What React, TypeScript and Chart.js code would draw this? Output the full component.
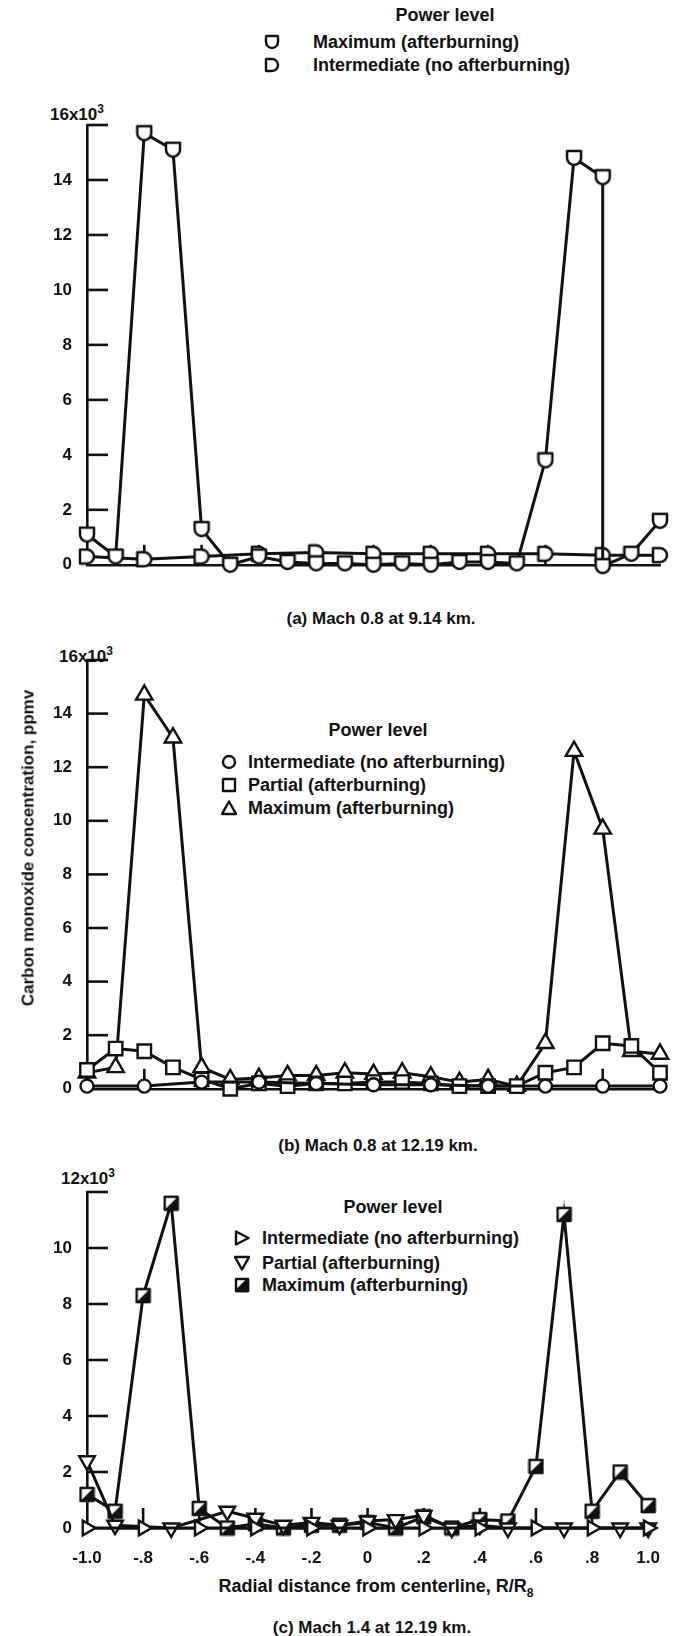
import React, { useEffect, useRef } from 'react';
import { Chart, registerables } from 'chart.js';

Chart.register(...registerables);

// ---------------- data (CO concentration, thousands of ppmv) ----------------
const radialPositions = [-1.0, -0.9, -0.8, -0.7, -0.6, -0.5, -0.4, -0.3, -0.2, -0.1, 0, 0.1, 0.2, 0.3, 0.4, 0.5, 0.6, 0.7, 0.8, 0.9, 1.0];
const evenPositions = [-1.0, -0.8, -0.6, -0.4, -0.2, 0, 0.2, 0.4, 0.6, 0.8, 1.0];

const xTickLabels = ['-1.0', '-.8', '-.6', '-.4', '-.2', '0', '.2', '.4', '.6', '.8', '1.0'];
const yTickLabels16 = ['0', '2', '4', '6', '8', '10', '12', '14', ''];
const yTickLabels12 = ['0', '2', '4', '6', '8', '10', ''];

// (a) Mach 0.8 at 9.14 km
const aMaxPositions = [-1.0, -0.9, -0.8, -0.7, -0.6, -0.5, -0.4, -0.3, -0.2, -0.1, 0, 0.1, 0.2, 0.3, 0.4, 0.5, 0.6, 0.7, 0.8, 0.8, 0.9, 1.0];
const aMaxValues = [1.1, 0.3, 15.7, 15.1, 1.3, 0, 0.3, 0.1, 0.05, 0.05, 0, 0.05, 0, 0.1, 0.1, 0.05, 3.8, 14.8, 14.1, -0.05, 0.4, 1.6];
const aIntValues = [0.3, 0.2, 0.3, 0.4, 0.45, 0.4, 0.4, 0.4, 0.4, 0.35, 0.35];

// (b) Mach 0.8 at 12.19 km
const bIntValues = [0.1, 0.1, 0.25, 0.25, 0.2, 0.15, 0.15, 0.1, 0.1, 0.1, 0.1];
const bPartValues = [0.7, 1.5, 1.4, 0.8, 0.35, 0, 0.2, 0.1, 0.2, 0.2, 0.25, 0.25, 0.2, 0.1, 0.1, 0.1, 0.6, 0.8, 1.7, 1.6, 0.6];
const bMaxValues = [0.6, 0.8, 14.7, 13.1, 0.8, 0.35, 0.4, 0.5, 0.5, 0.6, 0.55, 0.6, 0.45, 0.25, 0.35, 0.1, 1.7, 12.6, 9.7, 1.4, 1.3];

// (c) Mach 1.4 at 12.19 km
const cIntValues = [0, 0, 0, 0, 0, 0, 0, 0, 0, 0, 0];
const cPartPositions = [-1.0, -0.9, -0.7, -0.5, -0.4, -0.3, -0.2, -0.1, 0, 0.1, 0.2, 0.3, 0.4, 0.5, 0.7, 0.9, 1.0];
const cPartValues = [2.4, 0.1, 0, 0.6, 0.35, 0.1, 0.2, 0.1, 0.25, 0.3, 0.45, 0, 0.1, 0, 0, 0, 0];
const cMaxValues = [1.2, 0.6, 8.3, 11.6, 0.7, 0, 0.15, 0, 0.1, 0.1, 0.2, 0, 0.4, 0, 0.3, 0.25, 2.2, 11.2, 0.6, 2.0, 0.8];

// ---------------- styling ----------------
const FONT = "'Liberation Sans', Arial, sans-serif";
const INK = '#111';
const W = 680;
const AXIS_X = 87;
const RIGHT_X = 660;
const Y_AXIS_W = 80;

function makeMarker(kind: 'cup' | 'dee' | 'half', size: number): HTMLCanvasElement {
  const pad = 2;
  const s = size + pad * 2;
  const c = document.createElement('canvas');
  c.width = s;
  c.height = s;
  const ctx = c.getContext('2d')!;
  ctx.lineWidth = 2.5;
  ctx.strokeStyle = INK;
  ctx.fillStyle = '#fff';
  ctx.lineJoin = 'round';
  const l = pad, t = pad, r = pad + size, b = pad + size, m = s / 2, rad = size / 2;
  ctx.beginPath();
  if (kind === 'cup') {
    ctx.moveTo(l, t); ctx.lineTo(r, t); ctx.lineTo(r, m); ctx.arc(m, m, rad, 0, Math.PI); ctx.closePath();
    ctx.fill(); ctx.stroke();
  } else if (kind === 'dee') {
    ctx.moveTo(l, t); ctx.lineTo(m, t); ctx.arc(m, m, rad, -Math.PI / 2, Math.PI / 2); ctx.lineTo(l, b); ctx.closePath();
    ctx.fill(); ctx.stroke();
  } else {
    ctx.rect(l, t, size, size); ctx.fill();
    ctx.beginPath(); ctx.moveTo(r, t); ctx.lineTo(r, b); ctx.lineTo(l, b); ctx.closePath();
    ctx.fillStyle = INK; ctx.fill();
    ctx.beginPath(); ctx.rect(l, t, size, size); ctx.stroke();
  }
  return c;
}

const innerTicks = {
  id: 'innerTicks',
  beforeDatasetsDraw(chart: any) {
    const { ctx, chartArea, scales } = chart;
    ctx.save();
    ctx.strokeStyle = INK;
    ctx.lineWidth = 2.6;
    scales.y.ticks.forEach((t: any) => {
      if (t.value === 0) return;
      const y = scales.y.getPixelForValue(t.value);
      ctx.beginPath(); ctx.moveTo(chartArea.left, y); ctx.lineTo(chartArea.left + 21, y); ctx.stroke();
    });
    scales.x.ticks.forEach((t: any) => {
      if (Math.abs(t.value) > 0.99) return;
      const x = scales.x.getPixelForValue(t.value);
      ctx.beginPath(); ctx.moveTo(x, chartArea.bottom); ctx.lineTo(x, chartArea.bottom - 20); ctx.stroke();
    });
    ctx.restore();
  },
};

function series(xs: number[], ys: number[], extra: any) {
  return {
    data: xs.map((x, i) => ({ x, y: ys[i] })),
    borderColor: INK,
    borderWidth: 3,
    pointBackgroundColor: '#fff',
    pointBorderColor: INK,
    pointBorderWidth: 2.4,
    tension: 0,
    clip: false,
    spanGaps: true,
    ...extra,
  };
}

type PanelProps = {
  canvasTop: number;
  canvasHeight: number;
  chartTop: number;
  chartBottom: number;
  yMax: number;
  yLabels: string[];
  showX: boolean;
  xAxisHeight: number;
  makeSeries: () => any[];
};

function Panel(p: PanelProps) {
  const ref = useRef<HTMLCanvasElement>(null);
  useEffect(() => {
    const canvas = ref.current!;
    const tickFont = { family: FONT, size: 17, weight: 'bold' as const };
    const chart = new Chart(canvas, {
      type: 'line',
      data: { datasets: p.makeSeries() },
      options: {
        animation: false,
        responsive: false,
        maintainAspectRatio: false,
        devicePixelRatio: 1,
        events: [],
        layout: {
          padding: {
            top: p.chartTop - p.canvasTop,
            bottom: p.canvasTop + p.canvasHeight - p.chartBottom - p.xAxisHeight,
            left: AXIS_X - Y_AXIS_W,
            right: W - RIGHT_X,
          },
        },
        plugins: { legend: { display: false }, tooltip: { enabled: false }, title: { display: false } },
        scales: {
          x: {
            type: 'linear',
            min: -1,
            max: 1,
            grid: { display: false, drawTicks: false },
            border: { display: true, color: INK, width: 2.6 },
            ticks: {
              display: p.showX,
              stepSize: 0.2,
              padding: 20,
              color: INK,
              font: tickFont,
              maxRotation: 0,
              autoSkip: false,
              callback: (_v: any, i: number) => xTickLabels[i] ?? '',
            },
            afterFit: (s: any) => { s.height = p.xAxisHeight; },
          },
          y: {
            type: 'linear',
            min: 0,
            max: p.yMax,
            grid: { display: false, drawTicks: false },
            border: { display: true, color: INK, width: 2.6 },
            ticks: {
              stepSize: 2,
              padding: 15,
              color: INK,
              font: tickFont,
              callback: (_v: any, i: number) => p.yLabels[i] ?? '',
            },
            afterFit: (s: any) => { s.width = Y_AXIS_W; },
          },
        },
      } as any,
      plugins: [innerTicks],
    });
    return () => chart.destroy();
  }, []);
  return (
    <canvas
      ref={ref}
      width={W}
      height={p.canvasHeight}
      style={{ position: 'absolute', left: 0, top: p.canvasTop, width: W, height: p.canvasHeight }}
    />
  );
}

function Marker({ kind, x, y }: { kind: string; x: number; y: number }) {
  let shape: any = null;
  switch (kind) {
    case 'cup': shape = <path d="M2 2 H14 V8 A6 6 0 0 1 2 8 Z" />; break;
    case 'dee': shape = <path d="M2 2 H8 A6 6 0 0 1 8 14 H2 Z" />; break;
    case 'circle': shape = <circle cx={8} cy={8} r={6} />; break;
    case 'square': shape = <rect x={2} y={2} width={12} height={12} />; break;
    case 'triangle': shape = <path d="M8 1.5 L15 14 H1 Z" />; break;
    case 'right': shape = <path d="M2 1.5 L14.5 8 L2 14.5 Z" />; break;
    case 'down': shape = <path d="M1 2 H15 L8 14.5 Z" />; break;
    case 'half':
      shape = (
        <g>
          <rect x={2} y={2} width={12} height={12} />
          <path d="M14 2 V14 H2 Z" fill={INK} />
        </g>
      );
      break;
  }
  return (
    <svg width={16} height={16} style={{ position: 'absolute', left: x - 8, top: y - 8 }}>
      <g fill="#fff" stroke={INK} strokeWidth={2.4} strokeLinejoin="round">{shape}</g>
    </svg>
  );
}

const base: React.CSSProperties = {
  position: 'absolute',
  fontFamily: FONT,
  fontWeight: 'bold',
  color: INK,
  whiteSpace: 'nowrap',
  lineHeight: 1,
};

function Text({ x, y, size = 18, center = false, children }: any) {
  return (
    <div style={{ ...base, left: x, top: y, fontSize: size, transform: center ? 'translate(-50%, -50%)' : 'translateY(-50%)' }}>
      {children}
    </div>
  );
}

function Legend({ headX, headY, markX, textX, rows }: any) {
  return (
    <>
      <Text x={headX} y={headY} center>Power level</Text>
      {rows.map((r: any, i: number) => (
        <React.Fragment key={i}>
          <Marker kind={r.kind} x={markX} y={r.y} />
          <Text x={textX} y={r.y}>{r.label}</Text>
        </React.Fragment>
      ))}
    </>
  );
}

const sup = { fontSize: 12 };

export default function App() {
  return (
    <div style={{ position: 'absolute', left: 0, top: 0, width: W, height: 1636, background: '#fff', overflow: 'hidden' }}>
      {/* Panel (a) */}
      <Legend
        headX={445} headY={15} markX={272} textX={313}
        rows={[
          { kind: 'cup', y: 42, label: 'Maximum (afterburning)' },
          { kind: 'dee', y: 65, label: 'Intermediate (no afterburning)' },
        ]}
      />
      <Text x={50} y={113} size={17}>16x10<sup style={sup}>3</sup></Text>
      <Panel
        canvasTop={95} canvasHeight={495} chartTop={125} chartBottom={578}
        yMax={16} yLabels={yTickLabels16} showX={false} xAxisHeight={10}
        makeSeries={() => [
          series(aMaxPositions, aMaxValues, { pointStyle: makeMarker('cup', 14), pointRadius: 8 }),
          series(evenPositions, aIntValues, { pointStyle: makeMarker('dee', 14), pointRadius: 8 }),
        ]}
      />
      <Text x={381} y={618} size={17} center>(a) Mach 0.8 at 9.14 km.</Text>

      {/* Panel (b) */}
      <Text x={59} y={655} size={17}>16x10<sup style={sup}>3</sup></Text>
      <Legend
        headX={378} headY={730} markX={229} textX={248}
        rows={[
          { kind: 'circle', y: 762, label: 'Intermediate (no afterburning)' },
          { kind: 'square', y: 785, label: 'Partial (afterburning)' },
          { kind: 'triangle', y: 808, label: 'Maximum (afterburning)' },
        ]}
      />
      <Panel
        canvasTop={630} canvasHeight={484} chartTop={660} chartBottom={1102}
        yMax={16} yLabels={yTickLabels16} showX={false} xAxisHeight={10}
        makeSeries={() => [
          series(evenPositions, bIntValues, { pointStyle: 'circle', pointRadius: 6.5 }),
          series(radialPositions, bPartValues, { pointStyle: 'rect', pointRadius: 9.5 }),
          series(radialPositions, bMaxValues, { pointStyle: 'triangle', pointRadius: 9.5 }),
        ]}
      />
      <div style={{ ...base, left: 28, top: 848, fontSize: 17, transform: 'translate(-50%, -50%) rotate(-90deg)' }}>
        Carbon monoxide concentration, ppmv
      </div>
      <Text x={378} y={1145} size={17} center>(b) Mach 0.8 at 12.19 km.</Text>

      {/* Panel (c) */}
      <Text x={61} y={1177} size={17}>12x10<sup style={sup}>3</sup></Text>
      <Legend
        headX={393} headY={1207} markX={242} textX={262}
        rows={[
          { kind: 'right', y: 1238, label: 'Intermediate (no afterburning)' },
          { kind: 'down', y: 1263, label: 'Partial (afterburning)' },
          { kind: 'half', y: 1285, label: 'Maximum (afterburning)' },
        ]}
      />
      <Panel
        canvasTop={1162} canvasHeight={413} chartTop={1192} chartBottom={1528}
        yMax={12} yLabels={yTickLabels12} showX={true} xAxisHeight={45}
        makeSeries={() => [
          series(evenPositions, cIntValues, { pointStyle: 'triangle', pointRotation: 90, pointRadius: 8.5 }),
          series(cPartPositions, cPartValues, { pointStyle: 'triangle', pointRotation: 180, pointRadius: 9 }),
          series(radialPositions, cMaxValues, { pointStyle: makeMarker('half', 13), pointRadius: 8 }),
        ]}
      />
      <Text x={376} y={1588} size={18} center>
        Radial distance from centerline, R/R<sub style={sup}>8</sub>
      </Text>
      <Text x={372} y={1627} size={17} center>(c) Mach 1.4 at 12.19 km.</Text>
    </div>
  );
}
